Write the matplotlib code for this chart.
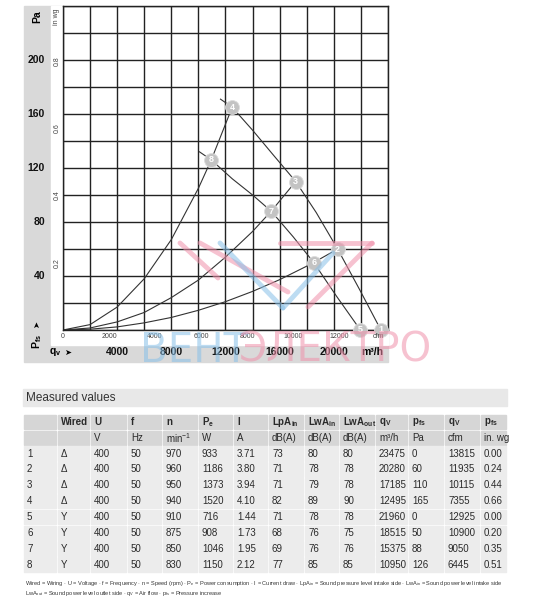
import numpy as np
import matplotlib
matplotlib.use('Agg')
import matplotlib.pyplot as plt
import matplotlib.transforms as mtransforms
from matplotlib.patches import Rectangle
from matplotlib.lines import Line2D
from matplotlib import font_manager

# Operating points (table)
points = ['1', '2', '3', '4', '5', '6', '7', '8']
wired = ['Δ', 'Δ', 'Δ', 'Δ', 'Y', 'Y', 'Y', 'Y']
volt = [400, 400, 400, 400, 400, 400, 400, 400]
freq = [50, 50, 50, 50, 50, 50, 50, 50]
speed = [970, 960, 950, 940, 910, 875, 850, 830]
power = [933, 1186, 1373, 1520, 716, 908, 1046, 1150]
current = ['3.71', '3.80', '3.94', '4.10', '1.44', '1.73', '1.95', '2.12']
lpa_in = [73, 71, 71, 82, 71, 68, 69, 77]
lwa_in = [80, 78, 79, 89, 78, 76, 76, 85]
lwa_out = [80, 78, 78, 90, 78, 75, 76, 85]
qv_m3h = [23475, 20280, 17185, 12495, 21960, 18515, 15375, 10950]
pfs_pa = [0, 60, 110, 165, 0, 50, 88, 126]
qv_cfm = [13815, 11935, 10115, 7355, 12925, 10900, 9050, 6445]
pfs_inwg = ['0.00', '0.24', '0.44', '0.66', '0.00', '0.20', '0.35', '0.51']

# Curves (m3/h, Pa)
delta_q = [11630, 12495, 14000, 15500, 17185, 18700, 20280, 21900, 23475]
delta_p = [171, 165, 148, 130, 110, 87, 60, 30, 0]
star_q = [10074, 10950, 12500, 14000, 15375, 17000, 18515, 20200, 21960]
star_p = [132, 126, 112, 100, 88, 69, 50, 25, 0]
sys1_q = [0, 2000, 4000, 6000, 8000, 10000, 10950, 12495]
sys1_p = [0, 4, 17, 38, 67, 105, 126, 165]
sys2_q = [0, 2000, 4000, 6000, 8000, 10000, 12000, 14000, 15375, 17185]
sys2_p = [0, 1.5, 6, 13, 24, 37, 54, 73, 88, 110]
sys3_q = [0, 2000, 4000, 6000, 8000, 10000, 12000, 14000, 16000, 18000, 18515, 20280]
sys3_p = [0, 0.6, 2.3, 5.3, 9.3, 14.6, 21, 28.6, 37.3, 47.3, 50, 60]

pa_labels = [40, 80, 120, 160, 200]
inwg_labels = [0.2, 0.4, 0.6, 0.8]
m3h_labels = [4000, 8000, 12000, 16000, 20000]
cfm_labels = [0, 2000, 4000, 6000, 8000, 10000, 12000]


def has_font(name):
    try:
        font_manager.findfont(name, fallback_to_default=False)
        return True
    except Exception:
        return False


plt.rcParams['font.family'] = ['Liberation Sans', 'DejaVu Sans']
narrow = 'Liberation Sans Narrow' if has_font('Liberation Sans Narrow') else 'Liberation Sans'

W, H = 550, 600
fig = plt.figure(figsize=(5.5, 6), dpi=100)


def fx(x):
    return x / W


def fy(y):
    return 1 - y / H


# grey frame around chart
fig.patches.append(Rectangle((fx(24), fy(362)), fx(388 - 24), (362 - 6) / H,
                             transform=fig.transFigure, color='#d9d9d9', zorder=-3))
fig.patches.append(Rectangle((fx(51), fy(345)), fx(388 - 51), (345 - 6) / H,
                             transform=fig.transFigure, color='white', zorder=-2))

ax = fig.add_axes([fx(63), fy(330), fx(325), 324 / H])
ax.set_xlim(0, 24000)
ax.set_ylim(0, 240)
ax.set_xticks(np.arange(0, 24001, 2000))
ax.set_yticks(np.arange(0, 241, 20))
ax.grid(True, color='#222222', lw=1.0)
ax.tick_params(length=0, labelbottom=False, labelleft=False)
for s in ax.spines.values():
    s.set_color('#222222')
    s.set_linewidth(1.0)
ax.set_facecolor('white')

line_kw = dict(color='#333333', lw=0.8)
ax.plot(delta_q, delta_p, **line_kw)
ax.plot(star_q, star_p, **line_kw)
ax.plot(sys1_q, sys1_p, **line_kw)
ax.plot(sys2_q, sys2_p, **line_kw)
ax.plot(sys3_q, sys3_p, **line_kw)

ax.plot(qv_m3h, pfs_pa, 'o', ms=10, color='#c3c3c3', mec='#dcdcdc', mew=0.6,
        clip_on=False, zorder=5)
for lab, q, p in zip(points, qv_m3h, pfs_pa):
    ax.text(q, p, lab, color='white', fontsize=6.5, fontweight='bold',
            ha='center', va='center', zorder=6, clip_on=False)

# axis labels
ty = mtransforms.blended_transform_factory(fig.transFigure, ax.transData)
tx = mtransforms.blended_transform_factory(ax.transData, fig.transFigure)
for v in pa_labels:
    ax.text(fx(45), v, str(v), transform=ty, ha='right', va='center',
            fontsize=7.5, fontweight='bold', color='#111111')
for v in inwg_labels:
    ax.text(fx(57), v * 249.09, str(v), transform=ty, ha='center', va='center',
            rotation=90, fontsize=5, color='#444444')
for v in m3h_labels:
    ax.text(v, fy(352), str(v), transform=tx, ha='center', va='center',
            fontsize=7.5, fontweight='bold', color='#111111')
for v in cfm_labels:
    ax.text(v * 1.699, fy(337), str(v), transform=tx, ha='center', va='center',
            fontsize=5, color='#444444')

fig.text(fx(37), fy(17), 'Pa', rotation=90, ha='center', va='center',
         fontsize=7.5, fontweight='bold')
fig.text(fx(57), fy(17), 'in wg', rotation=90, ha='center', va='center',
         fontsize=5, color='#444444')
fig.text(fx(37), fy(325), '➤', rotation=90, ha='center', va='center',
         fontsize=6, family='DejaVu Sans')
fig.text(fx(37), fy(341), r'P$_\mathregular{fs}$', rotation=90, ha='center', va='center',
         fontsize=7.5, fontweight='bold')
fig.text(fx(55), fy(352), r'q$_\mathregular{v}$', ha='center', va='center',
         fontsize=7.5, fontweight='bold')
fig.text(fx(68), fy(352), '➤', ha='center', va='center', fontsize=6,
         family='DejaVu Sans')
fig.text(fx(372), fy(352), 'm³/h', ha='center', va='center', fontsize=7.5,
         fontweight='bold')
fig.text(fx(378), fy(337), 'cfm', ha='center', va='center', fontsize=5,
         color='#444444')

# watermark
pink = '#f090aa'
blue = '#88c0e8'
wm = [((180, 243), (218, 278), pink), ((200, 243), (288, 292), pink),
      ((220, 243), (283, 308), blue), ((283, 308), (333, 253), blue),
      ((280, 243), (372, 243), pink), ((372, 243), (308, 307), pink)]
for (x0, y0), (x1, y1), c in wm:
    fig.add_artist(Line2D([fx(x0), fx(x1)], [fy(y0), fy(y1)], color=c, lw=3.5,
                          alpha=0.55, solid_capstyle='round',
                          transform=fig.transFigure, zorder=10))
fig.text(fx(140), fy(351), 'ВЕНТ', color=blue, alpha=0.55, fontsize=29,
         family='DejaVu Sans', ha='left', va='center', zorder=10)
fig.text(fx(239), fy(351), 'ЭЛЕКТРО', color=pink, alpha=0.55, fontsize=29,
         family='DejaVu Sans', ha='left', va='center', zorder=10)

# table
fig.patches.append(Rectangle((fx(23), fy(406)), fx(507 - 23), 17 / H,
                             transform=fig.transFigure, color='#e8e8e8', zorder=-1))
fig.text(fx(26), fy(398), 'Measured values', fontsize=8.5, color='#333333',
         ha='left', va='center')

bounds = [23, 57, 90, 127, 162, 198, 233, 268, 304, 339, 375, 408, 444, 480, 507]
head1 = ['', 'Wired', 'U', 'f', 'n', r'P$_\mathregular{e}$', 'I',
         r'LpA$_\mathregular{in}$', r'LwA$_\mathregular{in}$', r'LwA$_\mathregular{out}$',
         r'q$_\mathregular{V}$', r'p$_\mathregular{fs}$', r'q$_\mathregular{V}$',
         r'p$_\mathregular{fs}$']
head2 = ['', '', 'V', 'Hz', r'min$^\mathregular{-1}$', 'W', 'A', 'dB(A)', 'dB(A)',
         'dB(A)', 'm³/h', 'Pa', 'cfm', 'in. wg']
rows = [head1, head2]
for i in range(len(points)):
    rows.append([points[i], wired[i], volt[i], freq[i], speed[i], power[i],
                 current[i], lpa_in[i], lwa_in[i], lwa_out[i], qv_m3h[i],
                 pfs_pa[i], qv_cfm[i], pfs_inwg[i]])

row_h = 15.85
top = 414
for r, row in enumerate(rows):
    y0 = top + r * row_h
    bg = '#d6d6d6' if r < 2 else '#ececec'
    for c, val in enumerate(row):
        x0, x1 = bounds[c], bounds[c + 1]
        fig.patches.append(Rectangle((fx(x0 + 0.7), fy(y0 + row_h - 0.7)),
                                     fx(x1 - x0 - 1.4), (row_h - 1.4) / H,
                                     transform=fig.transFigure, color=bg, zorder=-1))
        fig.text(fx(x0 + 4), fy(y0 + row_h / 2), str(val), ha='left', va='center',
                 fontsize=7, color='#2a2a2a', family=[narrow, 'DejaVu Sans'],
                 fontweight='bold' if r == 0 else 'normal')

fig.text(fx(25), fy(583),
         r'Wired = Wiring · U = Voltage · f = Frequency · n = Speed (rpm) · P$_\mathregular{e}$ = Power consumption · '
         r'I = Current draw · LpA$_\mathregular{in}$ = Sound pressure level intake side · '
         r'LwA$_\mathregular{in}$ = Sound power level intake side',
         fontsize=4.05, color='#333333', ha='left', va='center', family=[narrow, 'DejaVu Sans'])
fig.text(fx(25), fy(593),
         r'LwA$_\mathregular{out}$ = Sound power level outlet side · q$_\mathregular{V}$ = Air flow · '
         r'p$_\mathregular{fs}$ = Pressure increase',
         fontsize=4.05, color='#333333', ha='left', va='center', family=[narrow, 'DejaVu Sans'])

fig.savefig('out.png', dpi=100)
